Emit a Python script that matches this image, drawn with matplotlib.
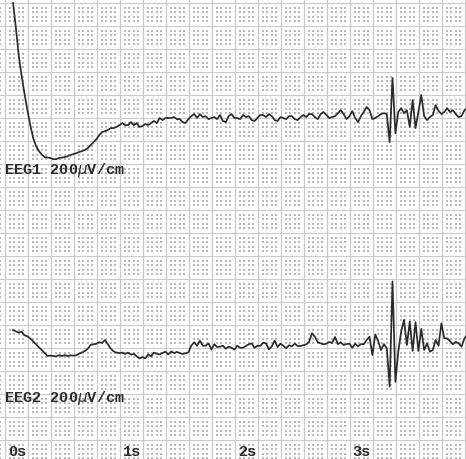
import numpy as np
import matplotlib
matplotlib.use("Agg")
import matplotlib.pyplot as plt

T_START = 0.07
DT = 0.025

# EEG1 deflection from its baseline (uV)
EEG1_UV = [
    509, 400, 278, 191, 113, 43, -22, -78, -113, -135,
    -150, -161, -163, -165, -170, -170, -165, -163, -161, -157,
    -152, -148, -144, -139, -135, -130, -122, -109, -96, -83,
    -65, -52, -48, -43, -35, -35, -30, -22, -13, -22,
    -22, -9, -22, -13, -30, -26, -17, -22, -13, -4,
    -13, 9, 0, 9, 9, 9, 13, 4, 4, -9,
    -13, 4, 17, 26, 9, 26, 13, 17, 4, 9,
    13, 4, 22, -4, -9, 17, 26, 9, 9, 4,
    22, 13, 17, 0, -4, 9, 22, 22, 13, 26,
    17, 0, -4, 13, 9, 4, 17, 17, 4, 0,
    13, 22, 13, 26, 26, 13, 4, 26, 35, 22,
    9, 13, 17, 30, 43, 26, 4, 17, 39, 9,
    -9, 17, 35, 57, 43, 4, 9, 17, 26, 30,
    26, -96, 183, -57, 35, 52, 30, 43, -30, 87,
    -35, 35, 109, 17, 0, 13, 22, 65, 40, 26,
    35, 52, 35, 43, 26, 13, 17, 43, 52,
]

# EEG2 deflection from its baseline (uV)
EEG2_UV = [
    65, 59, 54, 58, 42, 38, 28, 16, 3, -10,
    -22, -35, -48, -46, -48, -49, -44, -48, -44, -48,
    -45, -46, -45, -38, -32, -26, -16, 1, 3, 6,
    12, 9, 22, 3, -16, -28, -33, -35, -33, -39,
    -33, -42, -38, -49, -58, -52, -58, -41, -49, -33,
    -38, -41, -35, -29, -41, -28, -35, -30, -35, -39,
    -36, -32, -3, 12, -3, 19, -3, -3, 7, -20,
    4, -9, -7, -3, -16, -7, -12, -20, -3, -12,
    -12, -4, 3, 7, -12, -3, -4, 10, 7, -19,
    -6, 19, -9, 6, -3, -14, -1, -6, 6, -4,
    -4, -1, 3, 14, 51, 36, 12, 7, 3, 6,
    13, 9, 35, 4, 12, 0, 4, 6, -12, 6,
    -6, 4, 3, 22, 36, -44, 46, 17, -22, 4,
    -14, -181, 276, -160, -29, 58, 109, 0, 102, -26,
    99, -26, 70, -22, 7, -29, -22, 22, -3, 94,
    29, 29, 17, 3, 14, 7, -7, 29, 43,
]

CHANNELS = ["EEG1", "EEG2"]
SENSITIVITY = "200$\\mu$V/cm"
TIME_TICKS = [0, 1, 2, 3]
TIME_LABELS = ["0s", "1s", "2s", "3s"]

# paper layout: one big square = 0.2 s by 100 uV (5 mm at 200 uV/cm)
BASELINES = [1491, 513]
LABEL_Y = [1274, 283]
XLIM = (-0.0435, 4.009)
YLIM = (17.4, 2013)

INK = "#2b2b2b"


def draw_paper(ax):
    # fine dots, four per side inside every big square
    xs = np.arange(-0.2, 4.2, 0.04)
    xs = xs[np.abs(xs / 0.2 - np.round(xs / 0.2)) > 1e-6]
    ys = np.arange(0, 2100, 20)
    ys = ys[ys % 100 != 0]
    gx, gy = np.meshgrid(xs, ys)
    ax.scatter(gx.ravel(), gy.ravel(), s=0.75, marker="s", linewidths=0,
               color="#b9b9b9", zorder=1)
    for x in np.arange(0, 4.2, 0.2):
        ax.axvline(x, color="#c8c8c8", lw=0.9, zorder=2)
    for y in np.arange(100, 2100, 100):
        ax.axhline(y, color="#cbcbcb", lw=0.8, zorder=2)


def main():
    fig = plt.figure(figsize=(4.66, 4.59), dpi=100)
    ax = fig.add_axes([0, 0, 1, 1])
    ax.set_xlim(*XLIM)
    ax.set_ylim(*YLIM)
    ax.axis("off")

    draw_paper(ax)

    for trace, base in zip([EEG1_UV, EEG2_UV], BASELINES):
        t = T_START + DT * np.arange(len(trace))
        ax.plot(t, base + np.array(trace), color=INK, lw=1.25, zorder=3,
                solid_joinstyle="round")

    font = dict(family="Liberation Mono", weight="bold", size=11, color=INK)
    for name, y in zip(CHANNELS, LABEL_Y):
        ax.text(-0.005, y, f"{name} {SENSITIVITY}", ha="left", va="center",
                zorder=4, **font)
    for tick, label in zip(TIME_TICKS, TIME_LABELS):
        ax.text(tick + 0.024, 48, label, ha="left", va="center", zorder=4,
                **font)

    fig.savefig("out.png", dpi=100, facecolor="white")


if __name__ == "__main__":
    main()
